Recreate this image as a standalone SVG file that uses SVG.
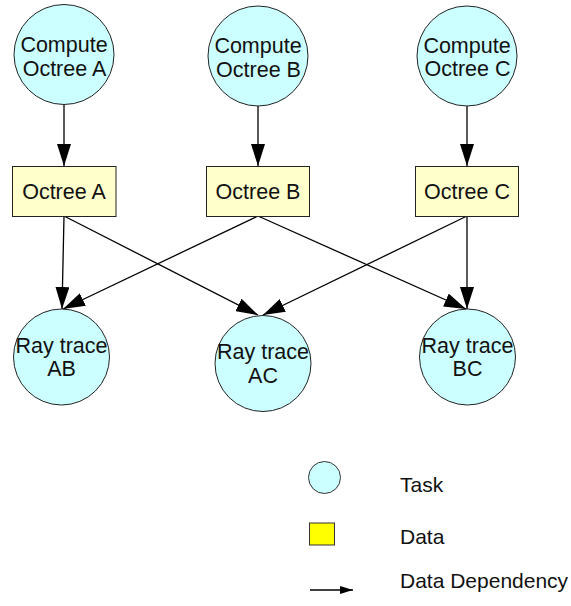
<svg xmlns="http://www.w3.org/2000/svg" width="571" height="606" viewBox="0 0 571 606">
  <style>
    .task { fill: #ccffff; stroke: #222; stroke-width: 1; }
    .data { fill: #ffffcc; stroke: #222; stroke-width: 1; }
    .lbl { font-family: "Liberation Sans", Arial, sans-serif; font-size: 21.5px; fill: #111; text-anchor: middle; }
    .leg { font-family: "Liberation Sans", Arial, sans-serif; font-size: 21px; fill: #111; }
    .edge { stroke: #000; stroke-width: 1.3; fill: none; marker-end: url(#head); }
  </style>
  <defs>
    <marker id="head" markerUnits="userSpaceOnUse" markerWidth="22" markerHeight="14" refX="22" refY="7" orient="auto">
      <path d="M0,0 L22,7 L0,14 Z" fill="#000"/>
    </marker>
    <marker id="headSmall" markerUnits="userSpaceOnUse" markerWidth="13" markerHeight="8" refX="13" refY="4" orient="auto">
      <path d="M0,0 L13,4 L0,8 Z" fill="#000"/>
    </marker>
  </defs>
  <rect width="571" height="606" fill="#fff"/>

  <g id="connectors">
    <line class="edge" x1="64" y1="105" x2="64" y2="166"/>
    <line class="edge" x1="258" y1="106" x2="258" y2="166"/>
    <line class="edge" x1="467" y1="106" x2="467" y2="166"/>
    <line class="edge" x1="64" y1="216" x2="62" y2="309"/>
    <line class="edge" x1="64" y1="216" x2="258" y2="315"/>
    <line class="edge" x1="258" y1="216" x2="63" y2="309"/>
    <line class="edge" x1="258" y1="216" x2="466" y2="309"/>
    <line class="edge" x1="467" y1="216" x2="263" y2="315"/>
    <line class="edge" x1="467" y1="216" x2="467" y2="309"/>
  </g>

  <g id="compute-a">
    <circle class="task" cx="64" cy="54.5" r="50"/>
    <text class="lbl" x="64" y="52">Compute</text>
    <text class="lbl" x="64.5" y="75.5">Octree A</text>
  </g>
  <g id="compute-b">
    <circle class="task" cx="258" cy="56" r="50"/>
    <text class="lbl" x="258" y="53">Compute</text>
    <text class="lbl" x="258.5" y="76.5">Octree B</text>
  </g>
  <g id="compute-c">
    <circle class="task" cx="467" cy="56" r="50"/>
    <text class="lbl" x="467" y="52.5">Compute</text>
    <text class="lbl" x="467.5" y="76">Octree C</text>
  </g>

  <g id="octree-a">
    <rect class="data" x="12.5" y="166.5" width="103.5" height="50"/>
    <text class="lbl" x="64" y="199">Octree A</text>
  </g>
  <g id="octree-b">
    <rect class="data" x="206.5" y="166.5" width="103" height="50"/>
    <text class="lbl" x="258" y="199">Octree B</text>
  </g>
  <g id="octree-c">
    <rect class="data" x="415.5" y="166.5" width="103" height="50"/>
    <text class="lbl" x="467" y="199">Octree C</text>
  </g>

  <g id="raytrace-ab">
    <circle class="task" cx="61.5" cy="357" r="48"/>
    <text class="lbl" x="61.5" y="352.5">Ray trace</text>
    <text class="lbl" x="61.5" y="375.5">AB</text>
  </g>
  <g id="raytrace-ac">
    <circle class="task" cx="263" cy="363.5" r="48"/>
    <text class="lbl" x="263" y="358.5">Ray trace</text>
    <text class="lbl" x="263" y="382.5">AC</text>
  </g>
  <g id="raytrace-bc">
    <circle class="task" cx="467.5" cy="357" r="48"/>
    <text class="lbl" x="467.5" y="352.5">Ray trace</text>
    <text class="lbl" x="467.5" y="375.5">BC</text>
  </g>

  <g id="legend">
    <circle cx="324.5" cy="477.5" r="16" fill="#ccffff" stroke="#333" stroke-width="1"/>
    <text class="leg" x="400" y="491.5">Task</text>
    <rect x="309.5" y="523" width="25" height="22" fill="#ffff00" stroke="#333" stroke-width="1"/>
    <text class="leg" x="400" y="544">Data</text>
    <line x1="310" y1="590" x2="353" y2="590" stroke="#000" stroke-width="1.3" marker-end="url(#headSmall)"/>
    <text class="leg" x="400" y="587.5">Data Dependency</text>
  </g>
</svg>
